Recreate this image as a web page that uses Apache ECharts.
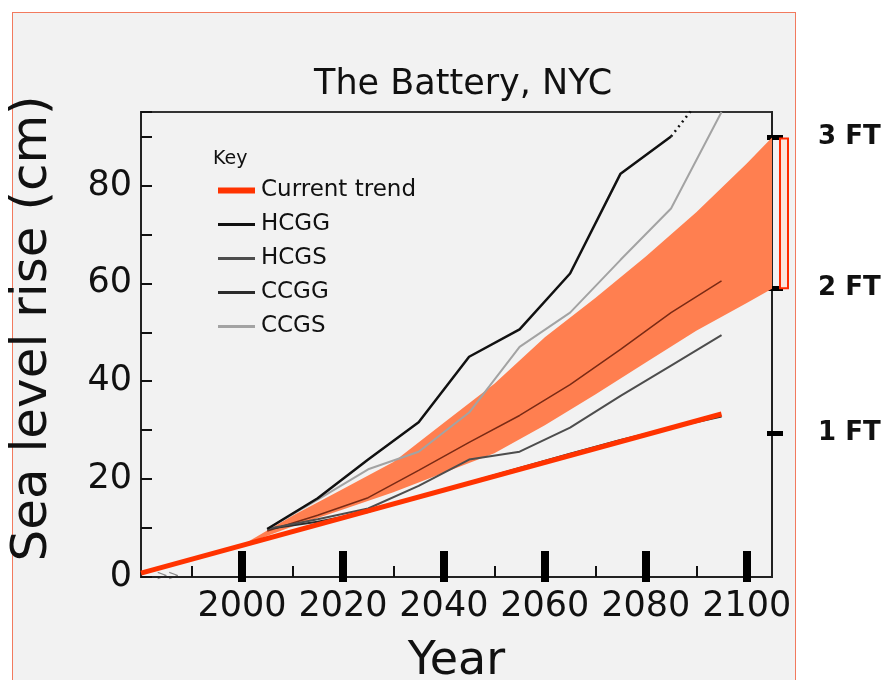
<!DOCTYPE html>
<html>
<head>
<meta charset="utf-8">
<script src="https://cdn.jsdelivr.net/npm/echarts@6.0.0/dist/echarts.min.js"></script>
<style>
  html, body { margin: 0; padding: 0; background: #fff; overflow: hidden; }
  #panel { position: absolute; left: 12px; top: 12px; width: 782px; height: 700px;
           background: #f2f2f2; border: 1px solid #f27a5e; }
  #main { position: absolute; left: 0; top: 0; width: 883px; height: 680px; }
</style>
</head>
<body>
<div id="panel"></div>
<div id="main"></div>
<script>
// tick labels
var majorYears = [2000, 2020, 2040, 2060, 2080, 2100];
var minorYears = [1990, 2010, 2030, 2050, 2070, 2090];
var cmLabels = [0, 20, 40, 60, 80];
var ftLabels = ['1 FT', '2 FT', '3 FT'];
var ftCm = [29.4, 59.0, 89.8];   // where the FT marks sit on the cm scale

// current trend
var trendYears = [1980, 2095];
var trend = [0.8, 33.3];

// model runs, every 10 years
var runYears = [2005, 2015, 2025, 2035, 2045, 2055, 2065, 2075, 2085, 2095];
var hcgg = [9.8, 16.1, 24.0, 31.6, 45.0, 50.6, 62.0, 82.4, 90.0];
var hcggDotYears = [2085, 2089.5];
var hcggDot = [90.0, 96.0];
var hcgs = [9.8, 11.8, 14.0, 18.6, 24.0, 25.6, 30.5, 37.0, 43.2, 49.4];
var ccgg = [9.8, 11.3, 13.3, 16.3, 19.3, 22.3, 25.2, 28.0, 30.5, 32.8];
var ccgs = [9.8, 15.8, 22.0, 25.6, 33.6, 47.0, 54.0, 64.8, 75.3, 95.0];
var median = [9.4, 12.6, 16.2, 21.8, 27.5, 33.0, 39.3, 46.5, 54.0, 60.5];

// shaded range
var bandYears = [2000, 2010, 2020, 2030, 2040, 2050, 2060, 2070, 2080, 2090, 2100, 2105];
var bandUpper = [6.5, 12.5, 18.0, 23.5, 31.5, 39.5, 49.0, 57.0, 65.5, 74.5, 84.5, 89.8];
var bandLower = [6.5, 10.3, 13.8, 17.3, 21.3, 25.3, 31.0, 37.3, 43.8, 50.3, 56.0, 58.9];

var font = 'DejaVu Sans';

function pairs(xs, ys) {
  return ys.map(function (v, i) { return [xs[i], v]; });
}

function lineSeries(name, xs, ys, color, width, z, dash) {
  return {
    name: name, type: 'line', data: pairs(xs, ys),
    symbol: 'none', smooth: false, z: z, clip: true,
    lineStyle: { color: color, width: width, type: dash || 'solid' },
    itemStyle: { color: color }
  };
}

function plain(v) { return String(v); }

var myChart = echarts.init(document.getElementById('main'));

var option = {
  animation: false,
  backgroundColor: 'transparent',
  title: {
    text: 'The Battery, NYC',
    left: 309, top: 62,
    textStyle: { fontFamily: font, fontSize: 35, fontWeight: 'normal', color: '#111' }
  },
  grid: {
    left: 141, top: 112, right: 111, bottom: 103,
    outerBoundsMode: 'none',
    show: true, borderColor: '#333', borderWidth: 2, backgroundColor: 'transparent'
  },
  legend: [
    {
      data: ['Current trend'],
      left: 213, top: 174,
      icon: 'rect', itemWidth: 37, itemHeight: 6,
      textStyle: { fontFamily: font, fontSize: 23, color: '#111', padding: [0, 0, 0, 1], lineHeight: 22 }
    },
    {
      data: ['HCGG', 'HCGS', 'CCGG', 'CCGS'],
      orient: 'vertical',
      left: 213, top: 208, itemGap: 11,
      icon: 'rect', itemWidth: 37, itemHeight: 3,
      textStyle: { fontFamily: font, fontSize: 23, color: '#111', padding: [0, 0, 0, 1], lineHeight: 22 }
    }
  ],
  xAxis: [
    {
      type: 'value', min: 1980, max: 2105, interval: 20, position: 'bottom',
      name: 'Year', nameLocation: 'middle', nameGap: 62,
      nameTextStyle: { fontFamily: font, fontSize: 46, color: '#111' },
      axisLine: { show: true, onZero: false, lineStyle: { color: '#222', width: 2 } },
      axisTick: { show: true, inside: true, length: 26, customValues: majorYears,
                  lineStyle: { color: '#000', width: 8 } },
      axisLabel: { customValues: majorYears, margin: 12, fontFamily: font, fontSize: 35,
                   color: '#111', formatter: plain },
      splitLine: { show: false }
    },
    {
      type: 'value', min: 1980, max: 2105, interval: 20, position: 'bottom',
      axisLine: { show: false, onZero: false },
      axisTick: { show: true, inside: false, length: 5, customValues: majorYears,
                  lineStyle: { color: '#000', width: 8 } },
      axisLabel: { show: false }, splitLine: { show: false }
    },
    {
      type: 'value', min: 1980, max: 2105, interval: 20, position: 'bottom',
      axisLine: { show: false, onZero: false },
      axisTick: { show: true, inside: true, length: 11, customValues: minorYears,
                  lineStyle: { color: '#111', width: 2 } },
      axisLabel: { show: false }, splitLine: { show: false }
    }
  ],
  yAxis: [
    {
      type: 'value', min: 0, max: 95, interval: 10, position: 'left',
      name: 'Sea level rise (cm)', nameLocation: 'middle', nameGap: 83,
      nameTextStyle: { fontFamily: font, fontSize: 50, color: '#111', padding: [0, 0, 0, 32] },
      axisLine: { show: true, onZero: false, lineStyle: { color: '#222', width: 2 } },
      axisTick: { show: true, inside: true, length: 11, lineStyle: { color: '#111', width: 2 } },
      axisLabel: { customValues: cmLabels, margin: 9, fontFamily: font, fontSize: 35,
                   color: '#111', formatter: plain },
      splitLine: { show: false }
    },
    {
      type: 'value', min: 0, max: 95, interval: 10, position: 'right',
      axisLine: { show: true, onZero: false, lineStyle: { color: '#222', width: 2 } },
      axisTick: { show: true, inside: false, length: 11, customValues: ftCm,
                  lineStyle: { color: '#000', width: 5 } },
      axisLabel: {
        customValues: ftCm, margin: 46, fontFamily: font, fontSize: 26,
        fontWeight: 'bold', color: '#111',
        formatter: function (v) {
          var i = ftCm.indexOf(v);
          return i >= 0 ? ftLabels[i] : '';
        }
      },
      splitLine: { show: false }
    },
    {
      type: 'value', min: 0, max: 95, interval: 10, position: 'right',
      axisLine: { show: false, onZero: false },
      axisTick: { show: true, inside: true, length: 5, customValues: ftCm,
                  lineStyle: { color: '#000', width: 5 } },
      axisLabel: { show: false }, splitLine: { show: false }
    }
  ],
  series: [
    {
      name: 'range', type: 'custom', z: 1,
      data: bandYears.map(function (y, i) { return [y, bandLower[i], bandUpper[i]]; }),
      renderItem: function (params, api) {
        if (params.dataIndex > 0) return;
        var pts = [];
        bandYears.forEach(function (y, i) { pts.push(api.coord([y, bandUpper[i]])); });
        for (var i = bandYears.length - 1; i >= 0; i--) pts.push(api.coord([bandYears[i], bandLower[i]]));
        return { type: 'polygon', shape: { points: pts }, style: { fill: '#ff7f50' } };
      }
    },
    lineSeries('median', runYears, median, '#7a2a14', 1.5, 3),
    lineSeries('CCGG', runYears, ccgg, '#2b2b2b', 2, 3),
    lineSeries('HCGS', runYears, hcgs, '#4d4d4d', 2, 3),
    lineSeries('CCGS', runYears, ccgs, '#a3a3a3', 2, 3),
    lineSeries('HCGG', runYears.slice(0, hcgg.length), hcgg, '#111', 2.5, 4),
    lineSeries('HCGG dotted', hcggDotYears, hcggDot, '#111', 2.5, 4, [2, 4]),
    lineSeries('Current trend', trendYears, trend, '#ff3300', 5, 5)
  ]
};

myChart.setOption(option);

// annotations placed through the axes
var xRight = myChart.convertToPixel({ xAxisIndex: 0 }, 2105);
var yTop = myChart.convertToPixel({ yAxisIndex: 0 }, ftCm[2]);
var yMid = myChart.convertToPixel({ yAxisIndex: 0 }, ftCm[1]);
var x0 = myChart.convertToPixel({ xAxisIndex: 0 }, 1983);
var y0 = myChart.convertToPixel({ yAxisIndex: 0 }, 0);

myChart.setOption({
  graphic: [
    {
      type: 'text', left: 213, top: 150,
      style: { text: 'Key', fontFamily: font, fontSize: 19, fill: '#111' }
    },
    {
      type: 'text', x: x0, y: y0 - 8,
      style: { text: '>>', fontFamily: font, fontSize: 14, fill: '#888' }
    },
    {
      type: 'rect', z: 10,
      shape: { x: xRight + 8, y: yTop + 1, width: 8, height: yMid - yTop - 1 },
      style: { fill: '#fbe4dc', stroke: '#ff2a00', lineWidth: 2 }
    }
  ]
});
</script>
</body>
</html>
